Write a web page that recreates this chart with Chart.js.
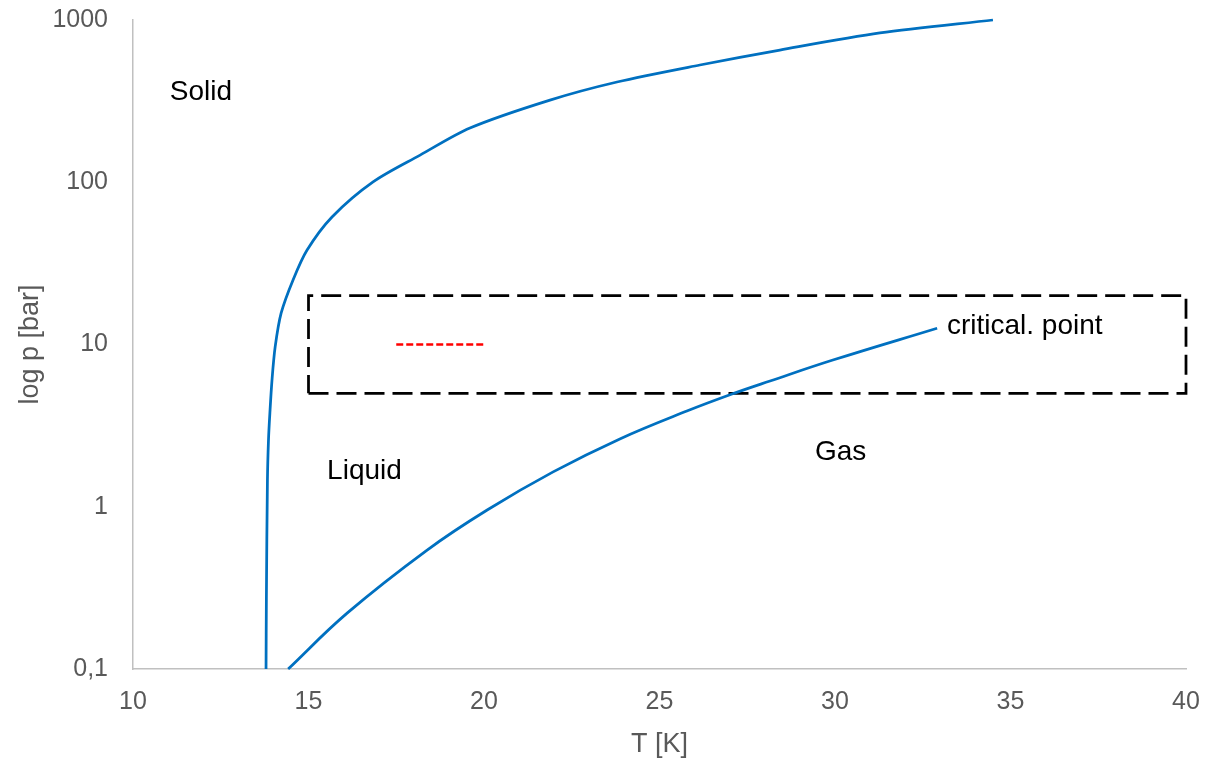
<!DOCTYPE html>
<html lang="en">

<head>
    <meta charset="UTF-8">
    <title>Hydrogen phase diagram</title>
    <script src="https://cdn.jsdelivr.net/npm/chart.js"></script>
    <style>
        html, body { margin: 0; padding: 0; background: #fff; }
        .chart_box { width: 1206px; height: 758px; position: relative; }
    </style>
</head>

<body>
    <div class="chart_box">
        <canvas id="phaseChart"></canvas>
    </div>

    <script>
        // melting curve (solid / liquid)
        const meltT = [13.79, 13.80, 13.83, 13.86, 13.90, 13.96, 14.05, 14.22, 14.56, 14.96, 15.67, 16.84, 18.18, 19.60, 21.88, 23.79, 26.15, 28.43, 31.28, 34.50];
        const meltP = [0.1, 0.27, 1.46, 2.58, 3.79, 6.04, 9.66, 15.6, 25.0, 38.2, 61.1, 100.5, 147, 216, 321, 415, 528, 653, 832, 1000];

        // vapour pressure curve (liquid / gas), ends at the critical point
        const vapT = [14.42, 16.10, 18.38, 20.09, 21.97, 23.87, 25.78, 27.12, 28.15, 29.94, 32.91];
        const vapP = [0.1, 0.221, 0.541, 0.955, 1.64, 2.62, 3.89, 5.0, 5.96, 8.02, 12.6];

        // dashed box 15..40 K, 5..20 bar
        const boxT = [15, 40, 40, 15, 15];
        const boxP = [5, 5, 20, 20, 5];

        // short red dashed mark at 10 bar
        const redT = [17.5, 20];
        const redP = [10, 10];

        // text labels
        const noteText = ['Solid', 'Liquid', 'Gas', 'critical. point'];
        const noteT = [11.05, 15.53, 29.43, 33.19];
        const noteP = [360, 1.66, 2.17, 13.0];

        const yTicks = [0.1, 1, 10, 100, 1000];
        const yTickLabels = ['0,1', '1', '10', '100', '1000'];

        const toPoints = (xs, ys) => xs.map((x, i) => ({ x: x, y: ys[i] }));

        const axisGrey = '#595959';
        const tickFont = { family: '"Liberation Sans", Arial, sans-serif', size: 25 };
        const titleFont = { family: '"Liberation Sans", Arial, sans-serif', size: 27, lineHeight: 1 };

        // draws the free text labels at data positions
        const notesPlugin = {
            id: 'notes',
            afterDatasetsDraw(chart) {
                const ctx = chart.ctx;
                const xs = chart.scales.x;
                const ys = chart.scales.y;
                ctx.save();
                ctx.font = '28px "Liberation Sans", Arial, sans-serif';
                ctx.fillStyle = '#000';
                ctx.textAlign = 'left';
                ctx.textBaseline = 'middle';
                noteText.forEach((t, i) => {
                    ctx.fillText(t, xs.getPixelForValue(noteT[i]), ys.getPixelForValue(noteP[i]));
                });
                ctx.restore();
            }
        };

        const ctx = document.getElementById('phaseChart').getContext('2d');

        new Chart(ctx, {
            type: 'line',
            data: {
                datasets: [{
                    label: 'melting',
                    data: toPoints(meltT, meltP),
                    borderColor: '#0070c0',
                    borderWidth: 2.75,
                    pointRadius: 0,
                    tension: 0.3,
                    clip: false
                }, {
                    label: 'vapour',
                    data: toPoints(vapT, vapP),
                    borderColor: '#0070c0',
                    borderWidth: 2.75,
                    pointRadius: 0,
                    tension: 0.4,
                    clip: false
                }, {
                    label: 'box',
                    data: toPoints(boxT, boxP),
                    borderColor: '#000',
                    borderWidth: 2.75,
                    borderDash: [20, 8],
                    pointRadius: 0,
                    tension: 0,
                    clip: false
                }, {
                    label: 'ref',
                    data: toPoints(redT, redP),
                    borderColor: '#ff0000',
                    borderWidth: 2.5,
                    borderDash: [7, 3],
                    pointRadius: 0,
                    tension: 0,
                    clip: false
                }]
            },
            options: {
                responsive: true,
                maintainAspectRatio: false,
                animation: false,
                layout: { padding: { top: 20, right: 20, left: 0, bottom: 0 } },
                scales: {
                    x: {
                        type: 'linear',
                        min: 10,
                        max: 40,
                        grid: { display: false },
                        border: { display: true, color: '#c0c0c0', width: 1.5 },
                        ticks: { stepSize: 5, color: axisGrey, font: tickFont, padding: 10, maxRotation: 0 },
                        title: { display: true, text: 'T [K]', color: axisGrey, font: titleFont, padding: { top: 4, bottom: 0 } },
                        afterFit(scale) {
                            scale.height = 89;
                            scale.paddingLeft = 0;
                            scale.paddingRight = 0;
                        }
                    },
                    y: {
                        type: 'logarithmic',
                        min: 0.1,
                        max: 1000,
                        grid: { display: false },
                        border: { display: true, color: '#c0c0c0', width: 1.5 },
                        afterBuildTicks(scale) {
                            scale.ticks = yTicks.map(v => ({ value: v }));
                        },
                        ticks: {
                            color: axisGrey,
                            font: tickFont,
                            padding: 17,
                            callback: (v) => yTickLabels[yTicks.indexOf(v)]
                        },
                        title: { display: true, text: 'log p [bar]', color: axisGrey, font: { family: '"Liberation Sans", Arial, sans-serif', size: 27 }, padding: { top: 14, bottom: 0 } },
                        afterFit(scale) {
                            scale.width = 133;
                            scale.paddingTop = 0;
                            scale.paddingBottom = 0;
                        }
                    }
                },
                plugins: {
                    legend: { display: false },
                    tooltip: { enabled: false }
                }
            },
            plugins: [notesPlugin]
        });
    </script>
</body>

</html>
